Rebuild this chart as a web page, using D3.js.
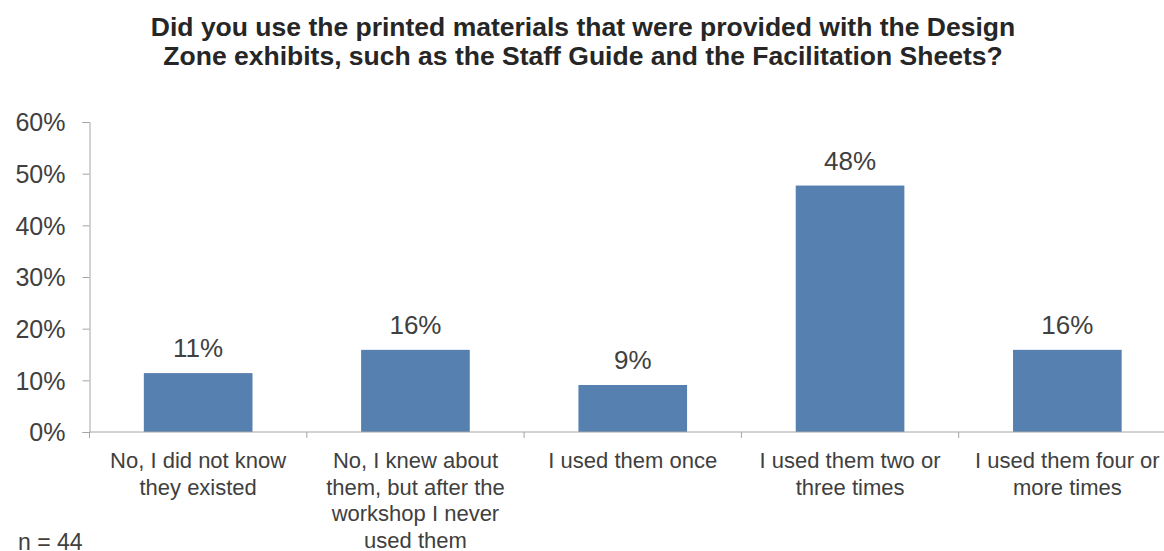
<!DOCTYPE html>
<html>
<head>
<meta charset="utf-8">
<script src="https://cdn.jsdelivr.net/npm/d3@7"></script>
<style>
  html, body { margin: 0; padding: 0; background: #fff; }
  svg { display: block; font-family: Arial, "Liberation Sans", sans-serif; }
</style>
</head>
<body>
<div id="chart"></div>
<script>
// Chart data
const title = [
    'Did you use the printed materials that were provided with the Design',
    'Zone exhibits, such as the Staff Guide and the Facilitation Sheets?'
];
const categories = [
    ['No, I did not know', 'they existed'],
    ['No, I knew about', 'them, but after the', 'workshop I never', 'used them'],
    ['I used them once'],
    ['I used them two or', 'three times'],
    ['I used them four or', 'more times']
];
const values = [0.114, 0.159, 0.091, 0.477, 0.159];
const yTicks = [0, 0.1, 0.2, 0.3, 0.4, 0.5, 0.6];
const note = 'n = 44';

const width = 1164, height = 551;
const margin = { top: 122, right: -12, bottom: 119, left: 89.5 };

const svg = d3.select('#chart')
    .append('svg')
    .attr('width', width)
    .attr('height', height);

const x = d3.scaleBand()
    .domain(d3.range(categories.length))
    .range([margin.left, width - margin.right])
    .paddingInner(0.5)
    .paddingOuter(0.25);

const y = d3.scaleLinear()
    .domain([0, 0.6])
    .range([height - margin.bottom, margin.top]);

const textColor = '#404040';
const axisColor = '#a6a6a6';

// Title
svg.append('text')
    .attr('text-anchor', 'middle')
    .attr('font-size', 26.5)
    .attr('font-weight', 'bold')
    .attr('fill', '#262626')
    .selectAll('tspan')
    .data(title)
    .join('tspan')
    .attr('x', 583)
    .attr('y', (d, i) => 36 + i * 29)
    .text(d => d);

// Y axis
const yAxis = svg.append('g')
    .attr('transform', `translate(${margin.left},0)`)
    .call(d3.axisLeft(y).tickValues(yTicks).tickFormat(d3.format('.0%')).tickSizeOuter(0).tickSize(7).tickPadding(17));
yAxis.select('.domain').attr('stroke', axisColor);
yAxis.selectAll('.tick line').attr('stroke', axisColor);
yAxis.selectAll('.tick text')
    .attr('fill', textColor)
    .attr('font-size', 25)
    .attr('dy', '0.35em');

// Bars
svg.append('g')
    .selectAll('rect')
    .data(values)
    .join('rect')
    .attr('x', (d, i) => x(i))
    .attr('y', d => y(d))
    .attr('width', x.bandwidth())
    .attr('height', d => y(0) - y(d))
    .attr('fill', '#5580b0');

// Value labels
svg.append('g')
    .selectAll('text')
    .data(values)
    .join('text')
    .attr('x', (d, i) => x(i) + x.bandwidth() / 2)
    .attr('y', d => y(d) - 16)
    .attr('text-anchor', 'middle')
    .attr('font-size', 26)
    .attr('fill', textColor)
    .text(d => d3.format('.0%')(d));

// X axis line with ticks at band boundaries
const x0 = x.range()[0], x1 = x.range()[1];
const boundaries = d3.range(categories.length + 1).map(i => x0 + i * (x1 - x0) / categories.length);
const base = y(0);
svg.append('line')
    .attr('x1', x0).attr('x2', x1)
    .attr('y1', base).attr('y2', base)
    .attr('stroke', axisColor);
svg.append('g')
    .selectAll('line')
    .data(boundaries)
    .join('line')
    .attr('x1', d => d).attr('x2', d => d)
    .attr('y1', base).attr('y2', base + 6)
    .attr('stroke', axisColor);

// Category labels
svg.append('g')
    .selectAll('text')
    .data(categories)
    .join('text')
    .attr('text-anchor', 'middle')
    .attr('font-size', 22)
    .attr('fill', textColor)
    .each(function (lines, i) {
        const cx = x(i) + x.bandwidth() / 2;
        d3.select(this).selectAll('tspan')
            .data(lines)
            .join('tspan')
            .attr('x', cx)
            .attr('y', (d, j) => 468 + j * 26.5)
            .text(d => d);
    });

// Sample size note
svg.append('text')
    .attr('x', 18)
    .attr('y', 550)
    .attr('font-size', 23)
    .attr('fill', textColor)
    .text(note);
</script>
</body>
</html>
